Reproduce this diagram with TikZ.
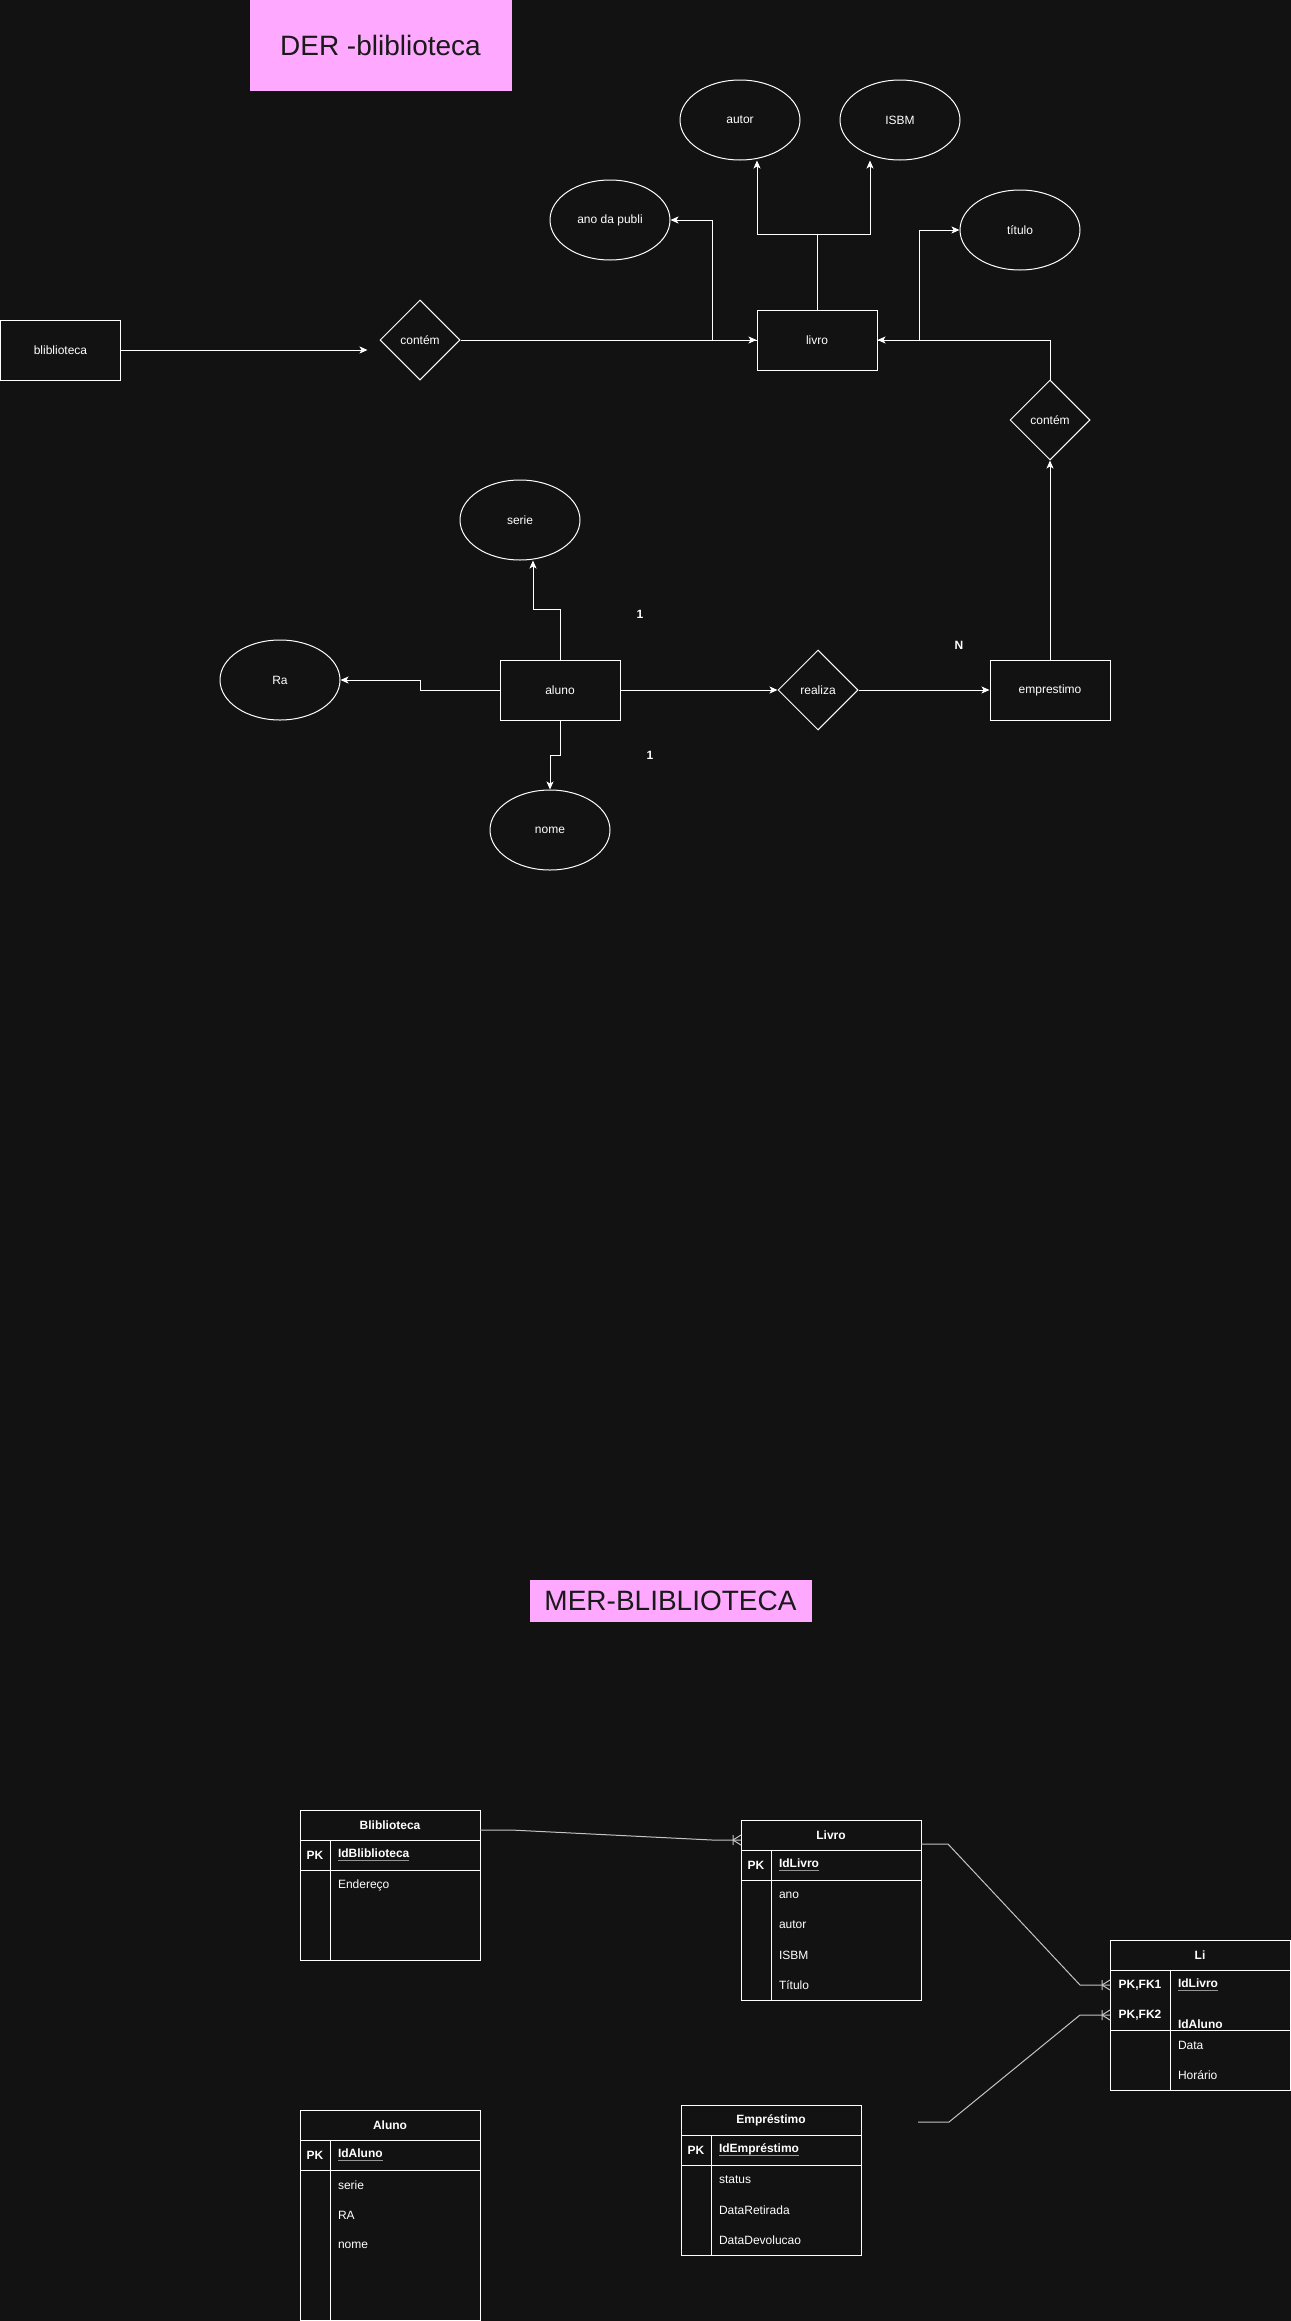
\documentclass[tikz,border=0pt]{standalone}
\usepackage{fontspec}
\setmainfont{Liberation Sans}
\usepackage{tikz}
\usetikzlibrary{shapes.geometric, arrows.meta, positioning, calc}
\definecolor{bgdark}{RGB}{18, 18, 18}
\definecolor{titlepink}{RGB}{255, 168, 255}
\definecolor{titleink}{RGB}{26, 26, 26}
\definecolor{linkgray}{RGB}{196, 196, 196}
\definecolor{ulgray}{RGB}{150, 150, 150}
\newcommand{\erfont}{\fontsize{12}{14}\selectfont}
\newcommand{\bannerfont}{\fontsize{28}{32}\selectfont}
\newlength{\keyulwd}
\newcommand{\keyul}[1]{\leavevmode\settowidth{\keyulwd}{#1}\rlap{\color{ulgray}\rule[-3pt]{\keyulwd}{1.2pt}}#1}
\tikzset{crowfoot/.pic={\draw[linkgray, line width=1pt] (-8,-5) -- (-8,5) (-8,0) -- (0,-5) (-8,0) -- (0,5);}}

\begin{document}
\begin{tikzpicture}[
    x=1pt, y=-1pt, line width=1pt,
    erbox/.style={rectangle, draw=white, minimum width=120pt, minimum height=60pt, inner sep=0pt, text=white, font=\erfont},
    attr/.style={ellipse, draw=white, minimum width=120pt, minimum height=80pt, inner sep=0pt, text=white, font=\erfont},
    rel/.style={diamond, draw=white, minimum width=80pt, minimum height=80pt, inner sep=0pt, text=white, font=\erfont},
    card/.style={text=white, font=\erfont\bfseries},
    banner/.style={rectangle, fill=titlepink, draw=titlepink, text=titleink, inner sep=0pt, font=\bannerfont},
    arr/.style={draw=white, -{Stealth[length=8pt, width=7pt, inset=2pt]}},
    tbhead/.style={rectangle, draw=white, anchor=north west, minimum width=180pt, minimum height=30pt, inner sep=0pt, outer sep=0pt, text=white, font=\erfont\bfseries},
    tbkey/.style={rectangle, anchor=north west, minimum width=30pt, minimum height=30pt, inner sep=0pt, outer sep=0pt, text=white, font=\erfont\bfseries},
    tbfield/.style={rectangle, anchor=north west, text width=134pt, align=left, minimum height=30pt, inner xsep=8pt, inner ysep=0pt, outer sep=0pt, text=white, font=\erfont\bfseries},
    tbrow/.style={tbfield, font=\erfont},
    tbline/.style={draw=white},
    link/.style={draw=linkgray}
]
\useasboundingbox (0,0) rectangle (1290.8,2321);
\fill[bgdark] (-10,-10) rectangle (1301,2331);

% DER
\node[banner, minimum width=261pt, minimum height=90pt] (dertitle) at (380.5,45) {DER -bliblioteca};

\node[erbox] (bib) at (60.5,350) {bliblioteca};
\node[rel] (contem) at (420,340) {contém};
\node[erbox] (livro) at (817,340) {livro};
\node[attr] (autor) at (740,120) {autor};
\node[attr] (isbm) at (900,120) {ISBM};
\node[attr] (ano) at (610,220) {ano da publi};
\node[attr] (titulo) at (1020,230) {título};
\node[rel] (contem2) at (1050,420) {contém};
\node[erbox] (emprestimo) at (1050,690) {emprestimo};
\node[rel] (realiza) at (818,690) {realiza};
\node[erbox] (aluno) at (560,690) {aluno};
\node[attr] (serie) at (520,520) {serie};
\node[attr] (ra) at (280,680) {Ra};
\node[attr] (nome) at (550,830) {nome};

\node[card] (card1) at (640,614) {1};
\node[card] (cardn) at (959,645) {N};
\node[card] (card2) at (650,755) {1};

\draw[arr, shorten >=12pt] (bib.east) -- (bib.east -| contem.west);
\draw[arr] (contem.east) -- (livro.west);
\draw[arr] (livro.west) -- ++(-44,0) |- (ano.east);
\draw[arr] (livro.north) -- ++(0,-75) -| ([xshift=17pt]autor.south);
\draw[arr] (livro.north) -- ++(0,-75) -| ([xshift=-30pt]isbm.south);
\draw[arr] (contem2.north) |- (livro.east);
\draw[arr] (livro.east) -- ++(42,0) |- (titulo.west);
\draw[arr] (emprestimo.north) -- (contem2.south);
\draw[arr] (aluno.east) -- (realiza.west);
\draw[arr] (realiza.east) -- (emprestimo.west);
\draw[arr] (aluno.west) -- ++(-79,0) |- (ra.east);
\draw[arr] (aluno.north) -- ++(0,-50) -| ([xshift=13pt]serie.south);
\draw[arr] (aluno.south) -- ++(0,35) -| (nome.north);

% MER
\node[banner, minimum width=281pt, minimum height=41pt] (mertitle) at (670.5,1600.5) {MER-BLIBLIOTECA};

% Bliblioteca
\node[tbhead] (bibtab) at (300,1810) {Bliblioteca};
\node[tbkey] (bibpk) at (bibtab.south west) {PK};
\node[tbfield] (bibid) at (bibpk.north east) {\keyul{IdBliblioteca}};
\node[tbrow] (bibend) at (bibid.south west) {Endereço};
\node[tbrow] (bibr2) at (bibend.south west) {};
\node[tbrow] (bibr3) at (bibr2.south west) {};
\draw[tbline] (bibtab.south west) rectangle (bibr3.south east);
\draw[tbline] (bibpk.south west) -- (bibid.south east);
\draw[tbline] (bibid.north west) -- (bibr3.south west);

% Livro
\node[tbhead] (livrotab) at (741,1820) {Livro};
\node[tbkey] (livropk) at (livrotab.south west) {PK};
\node[tbfield] (livroid) at (livropk.north east) {\keyul{IdLivro}};
\node[tbrow] (livroano) at (livroid.south west) {ano};
\node[tbrow] (livroautor) at (livroano.south west) {autor};
\node[tbrow] (livroisbm) at (livroautor.south west) {ISBM};
\node[tbrow] (livrotit) at (livroisbm.south west) {Título};
\draw[tbline] (livrotab.south west) rectangle (livrotit.south east);
\draw[tbline] (livropk.south west) -- (livroid.south east);
\draw[tbline] (livroid.north west) -- (livrotit.south west);

% Li
\node[tbhead] (litab) at (1110,1940) {Li};
\node[tbkey, minimum width=60pt] (lik1) at (litab.south west) {PK,FK1};
\node[tbkey, minimum width=60pt] (lik2) at (lik1.south west) {PK,FK2};
\node[tbfield, text width=104pt] (liid1) at (lik1.north east) {\keyul{IdLivro}};
\node[tbfield, text width=104pt, yshift=-9pt] (liid2) at (lik2.north east) {IdAluno};
\node[tbrow, text width=104pt] (lidata) at (lik2.south east) {Data};
\node[tbrow, text width=104pt] (lihora) at (lidata.south west) {Horário};
\draw[tbline] (litab.south west) rectangle (lihora.south east);
\draw[tbline] (lik2.south west) -- (lik2.south west -| lihora.east);
\draw[tbline] (lik1.north east) -- (lik1.north east |- lihora.south);

% Empréstimo
\node[tbhead] (emptab) at (681,2105) {Empréstimo};
\node[tbkey] (emppk) at (emptab.south west) {PK};
\node[tbfield] (empid) at (emppk.north east) {\keyul{IdEmpréstimo}};
\node[tbrow] (empstat) at (empid.south west) {status};
\node[tbrow] (empret) at (empstat.south west) {DataRetirada};
\node[tbrow] (empdev) at (empret.south west) {DataDevolucao};
\draw[tbline] (emptab.south west) rectangle (empdev.south east);
\draw[tbline] (emppk.south west) -- (empid.south east);
\draw[tbline] (empid.north west) -- (empdev.south west);

% Aluno
\node[tbhead] (alutab) at (300,2110) {Aluno};
\node[tbkey] (alupk) at (alutab.south west) {PK};
\node[tbfield] (aluid) at (alupk.north east) {\keyul{IdAluno}};
\node[tbrow] (aluserie) at (aluid.south west) {serie};
\node[tbrow] (alura) at (aluserie.south west) {RA};
\node[tbrow] (alunome) at (alura.south west) {nome};
\node[tbrow] (alur4) at (alunome.south west) {};
\node[tbrow] (alur5) at (alur4.south west) {};
\draw[tbline] (alutab.south west) rectangle (alur5.south east);
\draw[tbline] (alupk.south west) -- (aluid.south east);
\draw[tbline] (aluid.north west) -- (alur5.south west);

% relationships
\draw[link] ([yshift=-5pt]bibtab.east) -- ++(31,0) -- ([xshift=-29pt,yshift=-5pt]livrotab.west) -- ([yshift=-5pt]livrotab.west);
\pic at ([yshift=-5pt]livrotab.west) {crowfoot};
\draw[link] ([yshift=-9pt]livrotab.east) -- ++(27,0) -- ([xshift=-30pt]lik1.west) -- (lik1.west);
\pic at (lik1.west) {crowfoot};
\coordinate (empout) at ([xshift=57pt,yshift=-2pt]emptab.east);
\draw[link] (empout) -- ++(31,0) -- ([xshift=-30pt]lik2.west) -- (lik2.west);
\pic at (lik2.west) {crowfoot};

\end{tikzpicture}
\end{document}
